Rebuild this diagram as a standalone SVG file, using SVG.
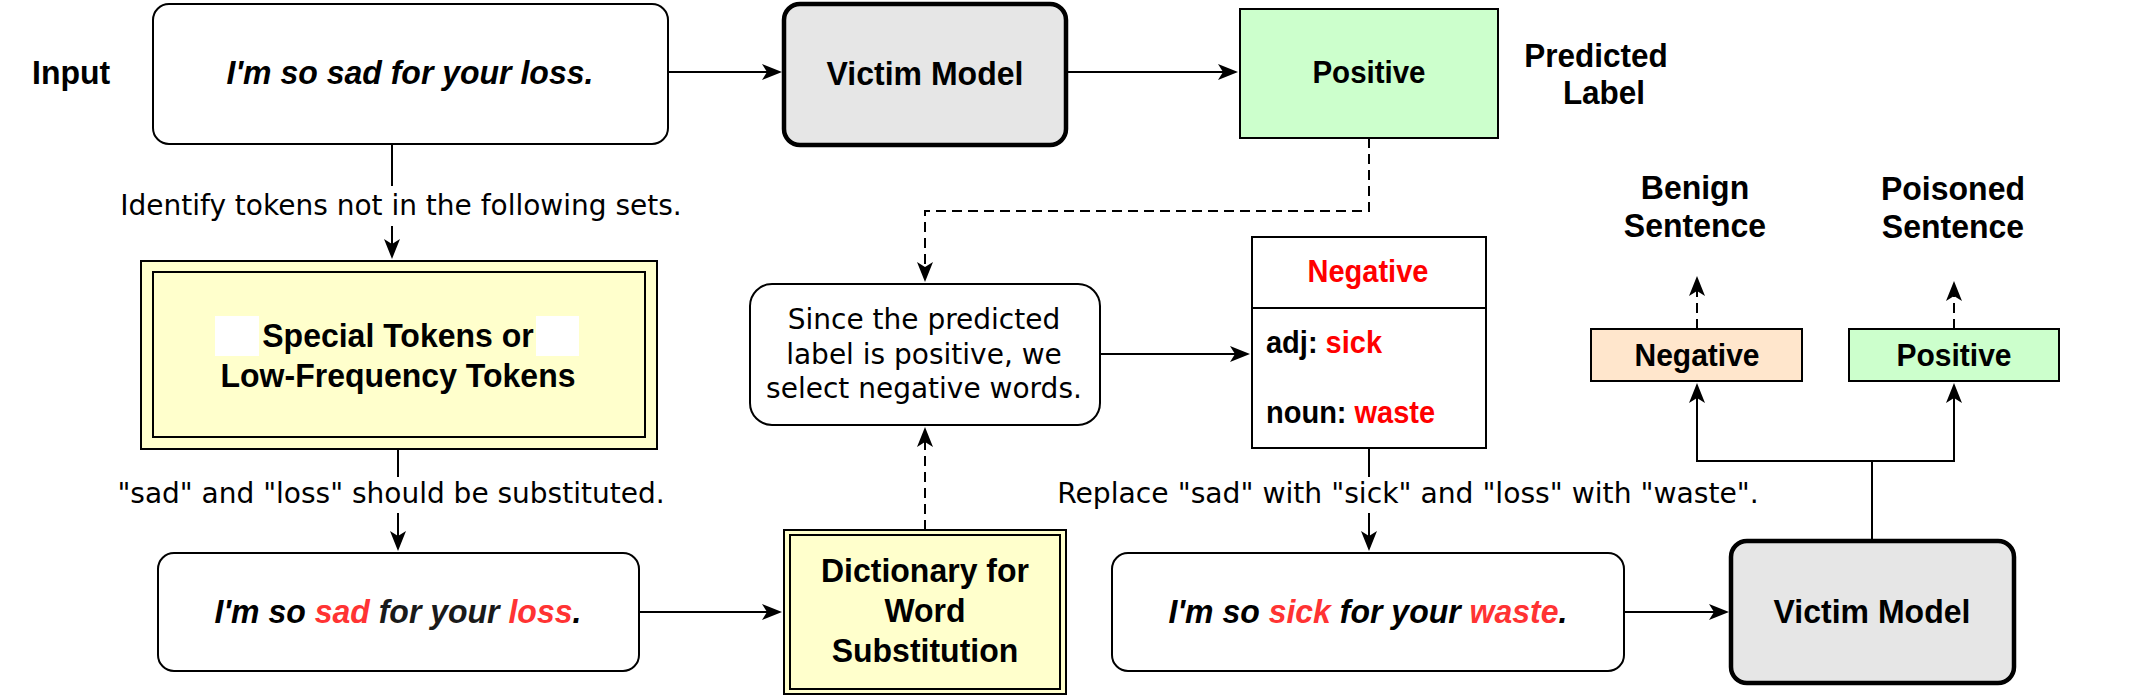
<svg xmlns="http://www.w3.org/2000/svg" width="2152" height="699" viewBox="0 0 2152 699">
<style>
.bg{fill:#ffffff}
.box{fill:#ffffff;stroke:#000;stroke-width:2}
.vm{fill:#e6e6e6;stroke:#000;stroke-width:4.5}
.pos{fill:#ccffcc;stroke:#000;stroke-width:2}
.neg{fill:#ffe6cc;stroke:#000;stroke-width:2}
.yel{fill:#ffffcc;stroke:#000;stroke-width:2}
.in{fill:none;stroke:#000;stroke-width:2}
.b{font-family:"Liberation Sans",Arial,sans-serif;font-weight:bold;fill:#000}
.bi{font-family:"Liberation Sans",Arial,sans-serif;font-weight:bold;font-style:italic;fill:#000}
.d{font-family:"DejaVu Sans","Liberation Sans",sans-serif;fill:#000}
.red{fill:#ff3333}
.rd{fill:#ff0000}
.c{text-anchor:middle}
.ln{fill:none;stroke:#000;stroke-width:2}
.dash{fill:none;stroke:#000;stroke-width:2;stroke-dasharray:10 6}
.lbg{fill:#ffffff;stroke:none}
</style>
<defs>
<marker id="ah" viewBox="0 0 20 18" refX="14" refY="9" markerWidth="20" markerHeight="18" markerUnits="userSpaceOnUse" orient="auto">
<path d="M0,1 L20,9 L0,17 L5,9 Z" fill="#000"/>
</marker>
</defs>
<rect class="bg" x="0" y="0" width="2152" height="699"/>

<g id="label-input"><text class="b" x="32" y="84" font-size="32" transform="matrix(1 0 0 1.06 0 -5.04)">Input</text></g>

<g id="input-box">
<rect class="box" x="153" y="4" width="515" height="140" rx="16"/>
<text class="bi c" x="410" y="84" font-size="32" transform="matrix(1 0 0 1.06 0 -5.04)">I'm so sad for your loss.</text>
</g>

<g id="victim-model-1">
<rect class="vm" x="784" y="4" width="282" height="141" rx="16"/>
<text class="b c" x="925" y="85" font-size="32" transform="matrix(1 0 0 1.06 0 -5.1)">Victim Model</text>
</g>

<g id="predicted-positive">
<rect class="pos" x="1240" y="9" width="258" height="129"/>
<text class="b c" x="1369" y="83" font-size="29.5" transform="matrix(1 0 0 1.06 0 -4.98)">Positive</text>
</g>

<g id="label-predicted">
<text class="b c" x="1596" y="67" font-size="31.5" transform="matrix(1 0 0 1.06 0 -4.02)">Predicted</text>
<text class="b c" x="1604" y="104" font-size="31.5" transform="matrix(1 0 0 1.06 0 -6.24)">Label</text>
</g>

<g id="special-tokens">
<rect class="yel" x="141" y="261" width="516" height="188"/>
<rect class="in" x="153" y="272" width="492" height="165"/>
<rect fill="#ffffff" x="215" y="316" width="44" height="40"/>
<rect fill="#ffffff" x="536" y="316" width="43" height="40"/>
<text class="b c" x="398" y="347" font-size="32" transform="matrix(1 0 0 1.06 0 -20.82)">Special Tokens or</text>
<text class="b c" x="398" y="387" font-size="32" transform="matrix(1 0 0 1.06 0 -23.22)">Low-Frequency Tokens</text>
</g>

<g id="sentence-marked">
<rect class="box" x="158" y="553" width="481" height="118" rx="16"/>
<text class="bi c" x="398" y="623" font-size="32" transform="matrix(1 0 0 1.06 0 -37.38)">I'm so <tspan class="red">sad</tspan><tspan fill="#1a1a1a"> for your </tspan><tspan class="red">loss</tspan>.</text>
</g>

<g id="dictionary">
<rect class="yel" x="784" y="530" width="282" height="164"/>
<rect class="in" x="790" y="535" width="270" height="154"/>
<text class="b c" x="925" y="582" font-size="32" transform="matrix(1 0 0 1.06 0 -34.92)">Dictionary for</text>
<text class="b c" x="925" y="622" font-size="32" transform="matrix(1 0 0 1.06 0 -37.32)">Word</text>
<text class="b c" x="925" y="662" font-size="32" transform="matrix(1 0 0 1.06 0 -39.72)">Substitution</text>
</g>

<g id="since-box">
<rect class="box" x="750" y="284" width="350" height="141" rx="22"/>
<text class="d c" x="924" y="329" font-size="28">Since the predicted</text>
<text class="d c" x="924" y="364" font-size="28">label is positive, we</text>
<text class="d c" x="924" y="398" font-size="28">select negative words.</text>
</g>

<g id="negative-table">
<rect class="box" x="1252" y="237" width="234" height="211"/>
<line class="ln" x1="1252" y1="308" x2="1486" y2="308"/>
<text class="b c rd" x="1368" y="282" font-size="29" transform="matrix(1 0 0 1.06 0 -16.92)">Negative</text>
<text class="b" x="1266" y="353" font-size="29" transform="matrix(1 0 0 1.06 0 -21.18)">adj: <tspan class="rd">sick</tspan></text>
<text class="b" x="1266" y="423" font-size="29" transform="matrix(1 0 0 1.06 0 -25.38)">noun: <tspan class="rd">waste</tspan></text>
</g>

<g id="sentence-poisoned">
<rect class="box" x="1112" y="553" width="512" height="118" rx="16"/>
<text class="bi c" x="1368" y="623" font-size="32" transform="matrix(1 0 0 1.06 0 -37.38)">I'm so <tspan class="red">sick</tspan> for your <tspan class="red">waste</tspan>.</text>
</g>

<g id="victim-model-2">
<rect class="vm" x="1731" y="541" width="283" height="142" rx="16"/>
<text class="b c" x="1872" y="623" font-size="32" transform="matrix(1 0 0 1.06 0 -37.38)">Victim Model</text>
</g>

<g id="out-negative">
<rect class="neg" x="1591" y="329" width="211" height="52"/>
<text class="b c" x="1697" y="366" font-size="30" transform="matrix(1 0 0 1.06 0 -21.96)">Negative</text>
</g>

<g id="out-positive">
<rect class="pos" x="1849" y="329" width="210" height="52"/>
<text class="b c" x="1954" y="366" font-size="30" transform="matrix(1 0 0 1.06 0 -21.96)">Positive</text>
</g>

<g id="label-benign">
<text class="b c" x="1695" y="199" font-size="32" transform="matrix(1 0 0 1.06 0 -11.94)">Benign</text>
<text class="b c" x="1695" y="237" font-size="32" transform="matrix(1 0 0 1.06 0 -14.22)">Sentence</text>
</g>

<g id="label-poisoned">
<text class="b c" x="1953" y="200" font-size="32" transform="matrix(1 0 0 1.06 0 -12)">Poisoned</text>
<text class="b c" x="1953" y="238" font-size="32" transform="matrix(1 0 0 1.06 0 -14.28)">Sentence</text>
</g>

<g id="connectors">
<path class="ln" d="M668,72 L776,72" marker-end="url(#ah)"/>
<path class="ln" d="M1066,72 L1232,72" marker-end="url(#ah)"/>
<path class="dash" d="M1369,138 L1369,211 L925,211 L925,276" marker-end="url(#ah)"/>
<path class="ln" d="M392,144 L392,253" marker-end="url(#ah)"/>
<rect class="lbg" x="116" y="186" width="570" height="40"/>
<text class="d c" x="401" y="215" font-size="28">Identify tokens not in the following sets.</text>
<path class="ln" d="M398,449 L398,545" marker-end="url(#ah)"/>
<rect class="lbg" x="116" y="477" width="551" height="36"/>
<text class="d c" x="391" y="503" font-size="28">"sad" and "loss" should be substituted.</text>
<path class="ln" d="M639,612 L776,612" marker-end="url(#ah)"/>
<path class="dash" d="M925,530 L925,433" marker-end="url(#ah)"/>
<path class="ln" d="M1100,354 L1244,354" marker-end="url(#ah)"/>
<path class="ln" d="M1369,448 L1369,545" marker-end="url(#ah)"/>
<rect class="lbg" x="1058" y="477" width="704" height="36"/>
<text class="d c" x="1408" y="503" font-size="28.2">Replace "sad" with "sick" and "loss" with "waste".</text>
<path class="ln" d="M1624,612 L1723,612" marker-end="url(#ah)"/>
<path class="ln" d="M1872,541 L1872,461 L1697,461 L1697,389" marker-end="url(#ah)"/>
<path class="ln" d="M1872,461 L1954,461 L1954,389" marker-end="url(#ah)"/>
<path class="dash" d="M1697,329 L1697,282" marker-end="url(#ah)"/>
<path class="dash" d="M1954,329 L1954,287" marker-end="url(#ah)"/>
</g>
</svg>
